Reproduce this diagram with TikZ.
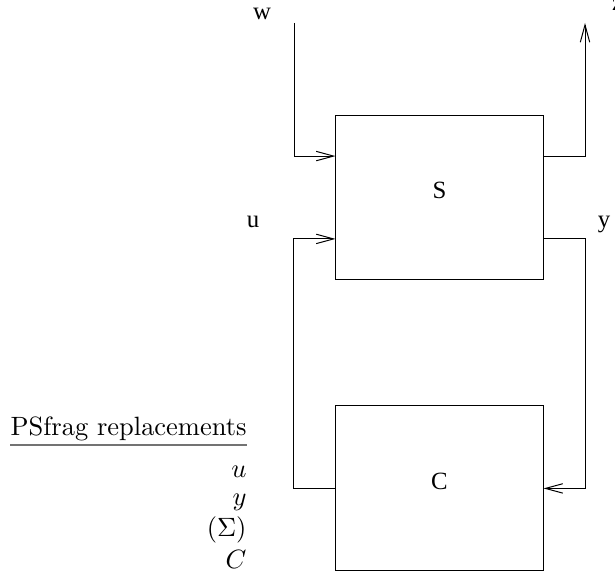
\documentclass[tikz,border=0pt]{standalone}
\usepackage{amsmath}
\usepackage{fontspec}
\newfontfamily\sysfont{Liberation Serif}
\usetikzlibrary{positioning,arrows.meta}

\begin{document}
\begin{tikzpicture}[x=0.4032pt, y=-0.4032pt, on grid, line width=0.4pt,
    >={Straight Barb[length=7pt,width=3.8pt]},
    block/.style={draw, minimum width=83.5pt, minimum height=66.5pt, text depth=5.6pt, font=\sysfont},
    sig/.style={font=\sysfont, inner sep=0pt, anchor=base},
    rep/.style={inner sep=0pt, anchor=base east, scale=1.067, transform shape}]
         \useasboundingbox (0,0) rectangle (615,581);
         \node(S) at (439.5,197.5) [block] {S};
         \node(C) [block, below = 117.3pt of S] {C};
         \node(w) [sig] at (262,20) {w};
         \node(z) [sig] at (617.5,11) {z};
         \node(u) [sig] at (253,228) {u};
         \node(y) [sig] at (604,228) {y};
         \coordinate(wtop) at (294,23);
         \coordinate(ztop) at (585,23);
         \draw[->] (wtop) |- ([yshift=16.7pt]S.west);
         \draw[->] ([yshift=16.7pt]S.east) -| (ztop);
         \draw[->] ([yshift=-16.7pt]S.east) -- ++(42,0) |- (C.east);
         \draw[->] (C.west) -- ++(-42,0) |- ([yshift=-16.7pt]S.west);
         % psfrag leftovers
         \node(psf) [rep] at (247,436) {PSfrag replacements};
         \draw[black!55, line width=0.7pt] ([yshift=-1.2pt]psf.south west) -- ([yshift=-1.2pt]psf.south east);
         \node(ru) [rep] at (247,478) {$u$};
         \node(ry) [rep] at (247,505) {$y$};
         \node(rsig) [rep] at (247,537) {$(\Sigma)$};
         \node(rc) [rep] at (247,568) {$C$};
     \end{tikzpicture}
\end{document}
